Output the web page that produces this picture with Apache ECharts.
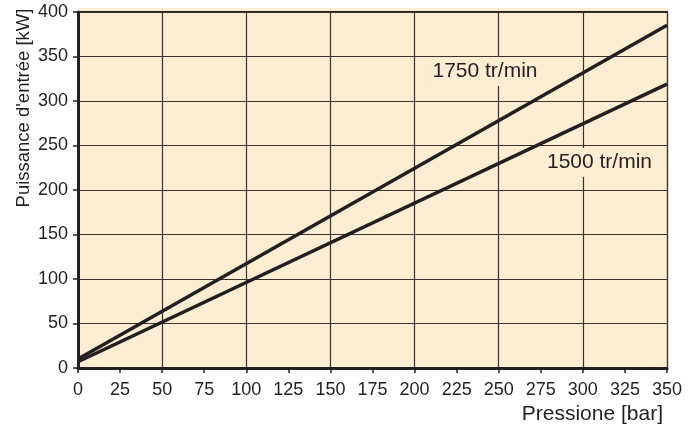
<!DOCTYPE html>
<html>
<head>
<meta charset="utf-8">
<script src="https://cdn.jsdelivr.net/npm/echarts@6/dist/echarts.min.js"></script>
<style>html,body{margin:0;padding:0;background:#fff;}#c{width:698px;height:431px;}</style>
</head>
<body>
<div id="c"></div>
<script>
var pressure = [0, 350];
var power1750 = [10, 385];
var power1500 = [7, 319];
var seriesNames = ['1750 tr/min', '1500 tr/min'];
var xTitle = 'Pressione [bar]';
var yTitle = "Puissance d'entrée [kW]";

var FONT = '"Liberation Sans", Arial, Helvetica, sans-serif';
var INK = '#231f20';
var GRIDC = '#3a322b';
var FILL = '#fdedd3';

var chart = echarts.init(document.getElementById('c'), null, {renderer: 'canvas'});
function pts(xs, ys) { return xs.map(function (x, i) { return [x, ys[i]]; }); }

var labelPos = [[485, 71.5], [599.5, 162.5]];

chart.setOption({
  animation: false,
  backgroundColor: '#ffffff',
  grid: {left: 78, right: 31, top: 12, bottom: 63, show: false},
  graphic: [
    {type: 'rect', z: -10, silent: true, shape: {x: 78, y: 8, width: 590, height: 360}, style: {fill: FILL}},
    {type: 'text', z: 100, x: 24, y: 108, rotation: Math.PI / 2,
      style: {text: yTitle, font: '18.5px ' + FONT, fill: INK, textAlign: 'center', textVerticalAlign: 'middle'}},
    {type: 'text', z: 100, x: 663, y: 414,
      style: {text: xTitle, font: '21px ' + FONT, fill: INK, textAlign: 'right', textVerticalAlign: 'middle'}},
    {type: 'text', z: 50, x: labelPos[0][0], y: labelPos[0][1],
      style: {text: seriesNames[0], font: '21px ' + FONT, fill: INK, textAlign: 'center', textVerticalAlign: 'middle',
        backgroundColor: FILL, padding: [4, 3]}},
    {type: 'text', z: 50, x: labelPos[1][0], y: labelPos[1][1],
      style: {text: seriesNames[1], font: '21px ' + FONT, fill: INK, textAlign: 'center', textVerticalAlign: 'middle',
        backgroundColor: FILL, padding: [4, 3]}}
  ],
  xAxis: [
    {type: 'value', min: 0, max: 350, interval: 25, position: 'bottom', z: 5,
      axisLine: {show: true, onZero: false, lineStyle: {color: INK, width: 3}},
      axisTick: {show: true, length: 5, lineStyle: {color: INK, width: 1.5}},
      axisLabel: {color: INK, fontSize: 18, fontFamily: FONT, margin: 13},
      splitLine: {show: false}},
    {type: 'value', min: 0, max: 350, interval: 50, position: 'top', z: 4,
      axisLine: {show: true, onZero: false, lineStyle: {color: INK, width: 2}},
      axisTick: {show: false}, axisLabel: {show: false},
      splitLine: {show: true, lineStyle: {color: GRIDC, width: 1.2}}}
  ],
  yAxis: [
    {type: 'value', min: 0, max: 400, interval: 50, position: 'left', z: 5,
      axisLine: {show: true, onZero: false, lineStyle: {color: INK, width: 3}},
      axisTick: {show: true, length: 5, lineStyle: {color: INK, width: 1.5}},
      axisLabel: {color: INK, fontSize: 18, fontFamily: FONT, margin: 10},
      splitLine: {show: true, lineStyle: {color: GRIDC, width: 1.2}}},
    {type: 'value', min: 0, max: 400, interval: 50, position: 'right', z: 4,
      axisLine: {show: true, onZero: false, lineStyle: {color: GRIDC, width: 1.2}},
      axisTick: {show: false}, axisLabel: {show: false}, splitLine: {show: false}}
  ],
  series: [
    {name: seriesNames[0], type: 'line', xAxisIndex: 0, yAxisIndex: 0, data: pts(pressure, power1750),
      symbol: 'none', z: 10, lineStyle: {color: INK, width: 3.5}},
    {name: seriesNames[1], type: 'line', xAxisIndex: 0, yAxisIndex: 0, data: pts(pressure, power1500),
      symbol: 'none', z: 10, lineStyle: {color: INK, width: 3.5}}
  ]
});
</script>
</body>
</html>
